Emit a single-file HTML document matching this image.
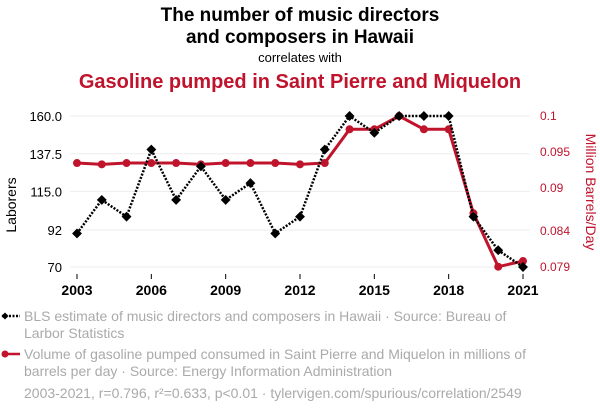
<!DOCTYPE html>
<html><head><meta charset="utf-8"><style>
body{margin:0;background:#fff;width:600px;height:414px;overflow:hidden;font-family:"Liberation Sans",sans-serif}
svg{display:block}
</style></head><body>
<svg id="chart" width="600" height="414" xmlns="http://www.w3.org/2000/svg">
<text x="300" y="21" text-anchor="middle" font-size="19" font-weight="bold" fill="#000">The number of music directors</text>
<text x="300" y="43" text-anchor="middle" font-size="19" font-weight="bold" fill="#000">and composers in Hawaii</text>
<text x="300" y="62" text-anchor="middle" font-size="13" fill="#000">correlates with</text>
<text x="300" y="88" text-anchor="middle" font-size="20" font-weight="bold" fill="#c0142d">Gasoline pumped in Saint Pierre and Miquelon</text>
<g id="grid"></g><g id="axes"></g><g id="series"></g>
<text transform="translate(16,205) rotate(-90)" text-anchor="middle" font-size="14" fill="#000">Laborers</text>
<text transform="translate(586,192) rotate(90)" text-anchor="middle" font-size="14" fill="#c0142d">Million Barrels/Day</text>
<g>
<line x1="2" y1="316" x2="20" y2="316" stroke="#000" stroke-width="2.5" stroke-dasharray="2,1.5"/>
<rect x="2.5" y="313.5" width="5" height="5" transform="rotate(45 5 316)" fill="#000"/>
<text x="24" y="321" font-size="14" fill="#aaa">BLS estimate of music directors and composers in Hawaii · Source: Bureau of</text>
<text x="24" y="338" font-size="14" fill="#aaa">Larbor Statistics</text>
</g>
<g>
<line x1="2" y1="354" x2="20" y2="354" stroke="#c0142d" stroke-width="2.5"/>
<circle cx="5" cy="354" r="3.5" fill="#c0142d"/>
<text x="24" y="359" font-size="14" fill="#aaa">Volume of gasoline pumped consumed in Saint Pierre and Miquelon in millions of</text>
<text x="24" y="376" font-size="14" fill="#aaa">barrels per day · Source: Energy Information Administration</text>
</g>
<text x="24" y="398" font-size="14" fill="#aaa">2003-2021, r=0.796, r²=0.633, p&lt;0.01 · tylervigen.com/spurious/correlation/2549</text>
</svg>
<script>
const years=[2003,2004,2005,2006,2007,2008,2009,2010,2011,2012,2013,2014,2015,2016,2017,2018,2019,2020,2021];
const laborers=[90,110,100,140,110,130,110,120,90,100,140,160,150,160,160,160,100,80,70];
const gasoline=[0.09346,0.09328,0.09346,0.09346,0.09346,0.09328,0.09346,0.09346,0.09346,0.09328,0.09346,0.09815,0.09815,0.1,0.09815,0.09815,0.08647,0.07904,0.07983];
const xTicks=[2003,2006,2009,2012,2015,2018,2021];
const leftTicks=[70,92,115,137.5,160];
const leftLabels=["70","92","115.0","137.5","160.0"];
const rightTicks=[0.079,0.084,0.09,0.095,0.1];
const rightLabels=["0.079","0.084","0.09","0.095","0.1"];
const NS="http://www.w3.org/2000/svg";
const x=v=>77+(v-2003)/(2021-2003)*446;
const yL=v=>267-(v-70)/(160-70)*151;
const yR=v=>267-(v-0.079)/(0.1-0.079)*151;
function mk(tag,attrs,parent,txt){const e=document.createElementNS(NS,tag);for(const k in attrs)e.setAttribute(k,attrs[k]);if(txt!==undefined)e.textContent=txt;parent.appendChild(e);return e;}
const grid=document.getElementById('grid'),axes=document.getElementById('axes'),ser=document.getElementById('series');
leftTicks.forEach((t,i)=>{
 const g=mk('line',{x1:70,x2:530,y1:yL(t),y2:yL(t),stroke:'#eee','stroke-width':1},grid);
 
 
 const l=mk('text',{x:62,y:yL(t)+5,'text-anchor':'end','font-size':13,fill:'#000'},axes,leftLabels[i]);
 
 
});
rightTicks.forEach((t,i)=>{
 const l=mk('text',{x:540,y:yR(t)+4,'font-size':12,fill:'#c0142d'},axes,rightLabels[i]);
 
 
});
xTicks.forEach(t=>{
 const k=mk('line',{x1:x(t),x2:x(t),y1:274,y2:279,stroke:'#000'},axes);
 
 
 const l=mk('text',{x:x(t),y:295,'text-anchor':'middle','font-size':14,'font-weight':'bold',fill:'#000'},axes,String(t));
 
 
});
const rp=mk('polyline',{points:years.map((y,i)=>x(y)+','+yR(gasoline[i])).join(' '),fill:'none',stroke:'#c0142d','stroke-width':3,'stroke-linejoin':'round'},ser);


years.forEach((y,i)=>{
 const c=mk('circle',{cx:x(y),cy:yR(gasoline[i]),r:4,fill:'#c0142d'},ser);
 
 
});
const bp=mk('polyline',{points:years.map((y,i)=>x(y)+','+yL(laborers[i])).join(' '),fill:'none',stroke:'#000','stroke-width':2.5,'stroke-dasharray':'2,1.5'},ser);


years.forEach((y,i)=>{
 const cx=x(y),cy=yL(laborers[i]);
 const d=mk('rect',{x:cx-3.5,y:cy-3.5,width:7,height:7,fill:'#000',transform:`rotate(45 ${cx} ${cy})`},ser);
 
 
});
</script>
</body></html>
